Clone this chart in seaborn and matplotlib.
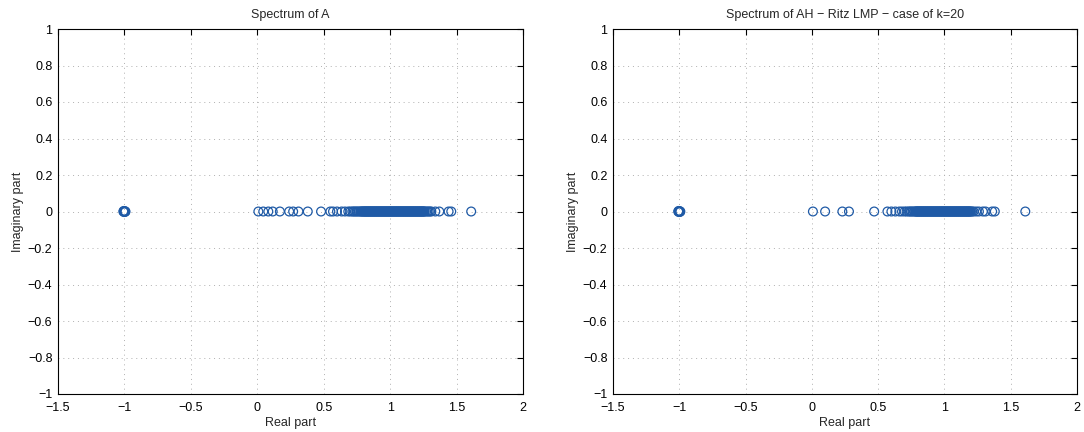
import numpy as np
import pandas as pd
import matplotlib
matplotlib.use("Agg")
import matplotlib.pyplot as plt
import seaborn as sns

# Autovalores (parte real); parte imaginaria ~ 0
cluster_menos_um = [-1.008, -1.005, -1.003, -1.0, -0.998, -0.995, -0.992]
cluster_menos_um_im = [0.0, 0.003, -0.003, 0.0, 0.002, -0.002, 0.0]

# Espectro de A: pontos isolados + aglomerado denso perto de 1
isolados_A = [0.008, 0.045, 0.083, 0.116, 0.17, 0.24, 0.27, 0.31, 0.38, 0.48,
              0.55, 0.57, 0.60, 0.635, 0.66, 0.685, 0.70, 0.715,
              1.31, 1.34, 1.37, 1.44, 1.46, 1.61]
denso_A = [0.725, 0.735, 0.745, 0.755, 0.765, 0.775, 0.782, 0.788, 0.794,
           0.80, 0.805, 0.81, 0.815, 0.82, 0.825, 0.83, 0.835, 0.84, 0.845,
           0.85, 0.855, 0.86, 0.865, 0.87, 0.875, 0.88, 0.885, 0.89, 0.895,
           0.90, 0.905, 0.91, 0.915, 0.92, 0.925, 0.93, 0.935, 0.94, 0.945,
           0.95, 0.955, 0.96, 0.965, 0.97, 0.975, 0.98, 0.985, 0.99, 0.995,
           1.0, 1.005, 1.01, 1.015, 1.02, 1.025, 1.03, 1.035, 1.04, 1.045,
           1.05, 1.055, 1.06, 1.065, 1.07, 1.075, 1.08, 1.085, 1.09, 1.095,
           1.10, 1.105, 1.11, 1.115, 1.12, 1.125, 1.13, 1.135, 1.14, 1.145,
           1.15, 1.155, 1.16, 1.165, 1.17, 1.175, 1.18, 1.185, 1.19, 1.195,
           1.20, 1.205, 1.21, 1.215, 1.22, 1.225, 1.23, 1.235, 1.24, 1.245,
           1.25, 1.255, 1.26, 1.27, 1.28, 1.29, 1.30]

# Espectro de AH (Ritz LMP, k=20)
isolados_AH = [0.008, 0.10, 0.23, 0.28, 0.47, 0.57, 0.60, 0.63, 0.66, 0.68,
               0.70, 0.715, 1.24, 1.26, 1.29, 1.31, 1.36, 1.38, 1.61]
denso_AH = [0.73, 0.74, 0.75, 0.76, 0.77, 0.78, 0.785, 0.79, 0.795, 0.80,
            0.805, 0.81, 0.815, 0.82, 0.825, 0.83, 0.835, 0.84, 0.845, 0.85,
            0.855, 0.86, 0.865, 0.87, 0.875, 0.88, 0.885, 0.89, 0.895, 0.90,
            0.905, 0.91, 0.915, 0.92, 0.925, 0.93, 0.935, 0.94, 0.945, 0.95,
            0.955, 0.96, 0.965, 0.97, 0.975, 0.98, 0.985, 0.99, 0.995, 1.0,
            1.005, 1.01, 1.015, 1.02, 1.025, 1.03, 1.035, 1.04, 1.045, 1.05,
            1.055, 1.06, 1.065, 1.07, 1.075, 1.08, 1.085, 1.09, 1.095, 1.10,
            1.105, 1.11, 1.115, 1.12, 1.125, 1.13, 1.135, 1.14, 1.145, 1.15,
            1.155, 1.16, 1.165, 1.17, 1.175, 1.18, 1.185, 1.19, 1.195, 1.20,
            1.21, 1.22]

titulos = ["Spectrum of A", "Spectrum of AH \u2212 Ritz LMP \u2212 case of k=20"]
cor = "#1f5aa6"

sns.set_style("white")
plt.rcParams["font.family"] = ["Liberation Sans", "DejaVu Sans"]
plt.rcParams["font.size"] = 9
plt.rcParams["axes.unicode_minus"] = True

fig = plt.figure(figsize=(10.84, 4.32), dpi=100)
posicoes = [[58 / 1084, 1 - 394 / 432, 465 / 1084, 365 / 432],
            [613 / 1084, 1 - 394 / 432, 464 / 1084, 365 / 432]]

for pos, reais, titulo in zip(posicoes,
                              [isolados_A + denso_A, isolados_AH + denso_AH],
                              titulos):
    ax = fig.add_axes(pos)
    df = pd.DataFrame({
        "re": cluster_menos_um + reais,
        "im": cluster_menos_um_im + [0.0] * len(reais),
    })
    sns.scatterplot(data=df, x="re", y="im", ax=ax, marker="o",
                    facecolors="none", edgecolor=cor, linewidth=0.9, s=40,
                    zorder=3)
    ax.set_xlim(-1.5, 2)
    ax.set_ylim(-1, 1)
    ax.set_xticks(np.arange(-1.5, 2.01, 0.5))
    ax.set_yticks(np.round(np.arange(-1, 1.01, 0.2), 1))
    ax.set_xticklabels(["\u22121.5", "\u22121", "\u22120.5", "0", "0.5", "1", "1.5", "2"])
    ax.set_yticklabels(["\u22121", "\u22120.8", "\u22120.6", "\u22120.4", "\u22120.2",
                        "0", "0.2", "0.4", "0.6", "0.8", "1"])
    ax.grid(True, linestyle=(0, (1, 4)), color="#b0b0b0", linewidth=0.7)
    ax.tick_params(direction="in", length=4, width=0.8, top=True, right=True,
                   labelsize=9, colors="black")
    ax.tick_params(axis="x", pad=6)
    ax.tick_params(axis="y", pad=4)
    for sp in ax.spines.values():
        sp.set_color("black")
        sp.set_linewidth(0.8)
        sp.set_visible(True)
    ax.set_xlabel("Real part", fontsize=9, labelpad=2)
    ax.set_ylabel("Imaginary part", fontsize=9, labelpad=3)
    ax.set_title(titulo, fontsize=9, pad=8)

fig.savefig("out.png", dpi=100)
